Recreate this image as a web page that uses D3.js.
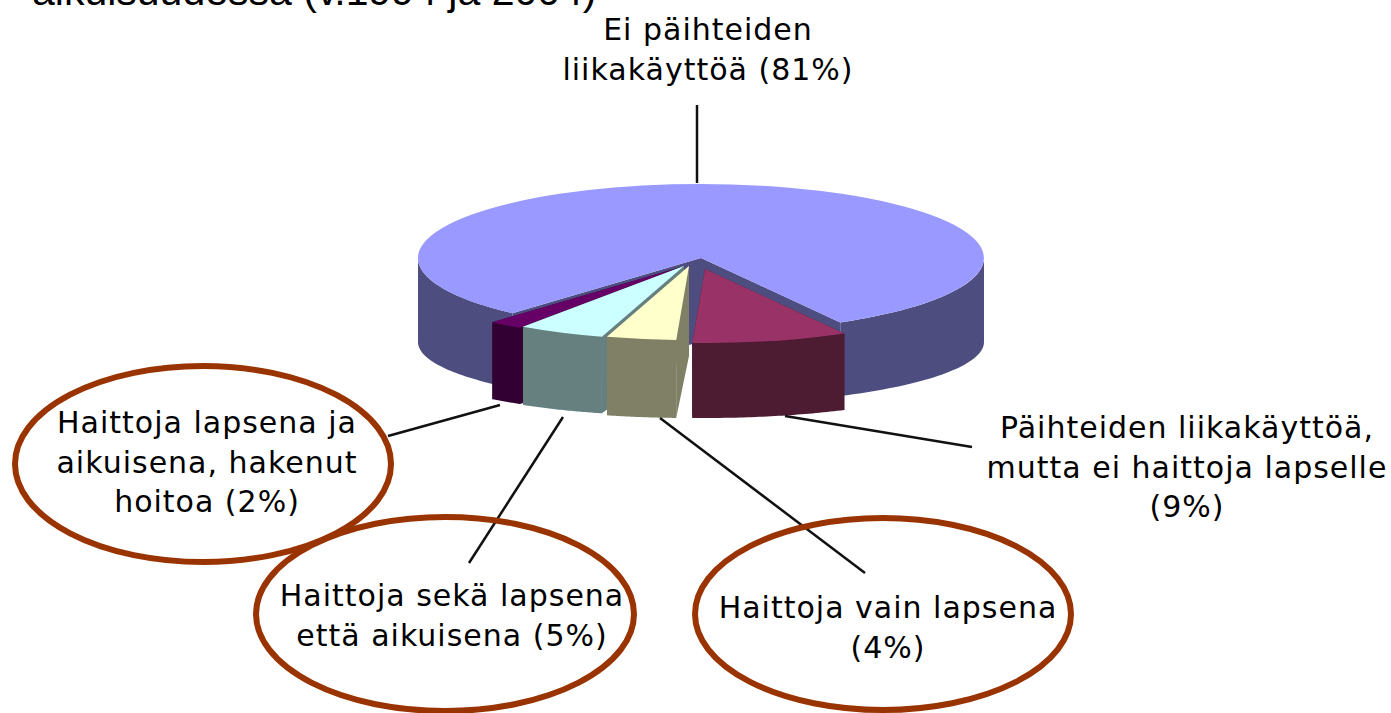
<!DOCTYPE html>
<html>
<head>
  <meta charset="utf-8">
  <script src="https://d3js.org/d3.v7.min.js"></script>
  <style>
    html, body { margin: 0; padding: 0; background: #fff; overflow: hidden; }
    text { font-family: "DejaVu Sans", sans-serif; fill: #000; }
    .title { font-family: "Liberation Sans", Arial, sans-serif; }
  </style>
</head>
<body>
  <svg id="chart" width="1391" height="713"></svg>
  <script>
    // values, clockwise from the big slice
    var names = ["Ei päihteiden", "Päihteiden", "Haittoja vain", "Haittoja sekä", "Haittoja lapsena"];
    var values = [81, 9, 4, 5, 2];
    var topColors = ["#9999ff", "#993366", "#ffffcc", "#ccffff", "#660066"];
    var sideColors = ["#4d4d80", "#4d1a33", "#808066", "#668080", "#330033"];
    var labelLines = [
      ["Ei päihteiden", "liikakäyttöä (81%)"],
      ["Päihteiden liikakäyttöä,", "mutta ei haittoja lapselle", "(9%)"],
      ["Haittoja vain lapsena", "(4%)"],
      ["Haittoja sekä lapsena", "että aikuisena (5%)"],
      ["Haittoja lapsena ja", "aikuisena, hakenut", "hoitoa (2%)"]
    ];
    var titleText = "aikuisuudessa (v.1994 ja 2004)";

    const width = 1391, height = 713;
    const cx = 701, cy = 258, rx = 283, ry = 74, bottomRy = 62;
    const rad = Math.PI / 180;

    // how far each slice is pulled out of the pie (px) and how tall it looks
    var pull = [[0, 0], [4, 11], [-12, 8], [-17, 8], [-20, 9]];
    var depths = [84, 87, 90, 88, 86];
    var labelPos = [[708, 40], [1187, 438], [888, 618], [452, 606], [207, 433]];
    var leaders = [
      [[697, 105], [697, 183]],
      [[785, 416], [972, 447]],
      [[660, 418], [865, 573]],
      [[563, 417], [469, 563]],
      [[500, 405], [388, 436]]
    ];
    var rings = [[203, 464, 188, 98], [445, 614, 189, 97], [883, 614, 188, 96]];

    var svg = d3.select("#chart");

    // the reference is an enlarged bitmap, so the pie edges are a bit soft
    svg.append("defs").append("filter").attr("id", "soft")
      .append("feGaussianBlur").attr("stdDeviation", 0.7);

    var pie = d3.pie().sort(null)
      .startAngle(-138.2 * rad)
      .endAngle((360 - 138.2) * rad);
    var slices = pie(values);
    var line = d3.line();
    var arc = d3.arc().innerRadius(0).outerRadius(1);

    function pt(a, i) {
      return [cx + pull[i][0] + rx * Math.sin(a), cy + pull[i][1] - ry * Math.cos(a)];
    }
    // lower rim is a flatter ellipse than the top face
    function ptDown(a, i) {
      return [cx + pull[i][0] + rx * Math.sin(a),
              cy + pull[i][1] + depths[i] - bottomRy * Math.cos(a)];
    }
    function apex(i) {
      return [cx + pull[i][0], cy + pull[i][1]];
    }
    function apexDown(i) {
      return [cx + pull[i][0], cy + pull[i][1] + depths[i]];
    }

    function radialWall(i, a) {
      return line([apex(i), pt(a, i), ptDown(a, i), apexDown(i)]) + "Z";
    }

    function frontWalls(s, i) {
      // only the part of the rim that faces the viewer
      var out = [];
      [[90, 270], [-270, -90]].forEach(function (r) {
        var a0 = Math.max(s.startAngle, r[0] * rad);
        var a1 = Math.min(s.endAngle, r[1] * rad);
        if (a1 <= a0) return;
        var steps = d3.range(0, 41).map(function (k) { return a0 + (a1 - a0) * k / 40; });
        var pts = steps.map(function (a) { return pt(a, i); })
          .concat(steps.slice().reverse().map(function (a) { return ptDown(a, i); }));
        out.push(line(pts) + "Z");
      });
      return out;
    }

    // title, cut off by the top of the picture
    svg.append("text").attr("class", "title")
      .attr("x", 32).attr("y", 5)
      .attr("font-size", 41)
      .text(titleText);

    // back to front: big slice, then the pulled out ones from left to right
    var pieG = svg.append("g").attr("filter", "url(#soft)");
    [0, 4, 3, 2, 1].forEach(function (i) {
      var s = slices[i];
      var g = pieG.append("g").attr("class", "slice").attr("data-name", names[i]);

      [s.startAngle, s.endAngle].forEach(function (a) {
        g.append("path").attr("d", radialWall(i, a)).attr("fill", sideColors[i]);
      });
      frontWalls(s, i).forEach(function (d) {
        g.append("path").attr("d", d).attr("fill", sideColors[i]);
      });
      g.append("path")
        .attr("d", arc(s))
        .attr("transform", "translate(" + apex(i) + ") scale(" + rx + "," + ry + ")")
        .attr("fill", topColors[i]);
    });

    // leader lines
    svg.selectAll(".leader").data(leaders).enter().append("path")
      .attr("class", "leader")
      .attr("d", function (d) { return line(d); })
      .attr("stroke", "#111")
      .attr("stroke-width", 2.5)
      .attr("fill", "none");

    // ovals round the three harm groups
    svg.selectAll(".ring").data(rings).enter().append("ellipse")
      .attr("class", "ring")
      .attr("cx", function (d) { return d[0]; })
      .attr("cy", function (d) { return d[1]; })
      .attr("rx", function (d) { return d[2]; })
      .attr("ry", function (d) { return d[3]; })
      .attr("fill", "none")
      .attr("stroke", "#993300")
      .attr("stroke-width", 6);

    // slice labels
    labelLines.forEach(function (lines, i) {
      var t = svg.append("text")
        .attr("text-anchor", "middle")
        .attr("font-size", 30)
        .attr("letter-spacing", 1)
        .attr("x", labelPos[i][0])
        .attr("y", labelPos[i][1]);
      lines.forEach(function (l, k) {
        t.append("tspan")
          .attr("x", labelPos[i][0])
          .attr("y", labelPos[i][1] + k * 39.5)
          .text(l);
      });
    });
  </script>
</body>
</html>
